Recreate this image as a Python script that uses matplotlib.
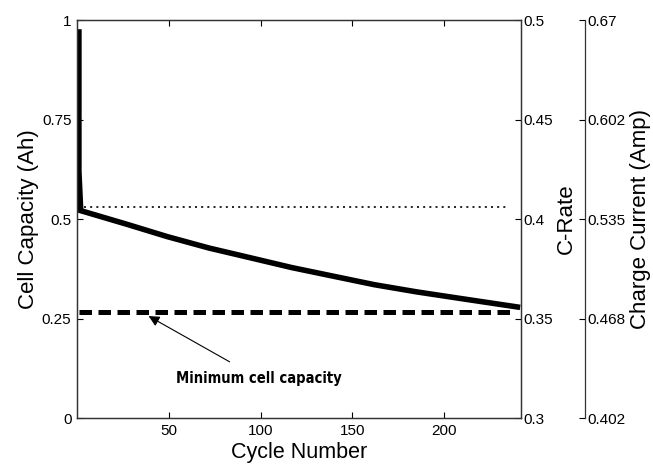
import matplotlib.pyplot as plt
import numpy as np

plt.rcParams["font.family"] = ["Liberation Sans", "DejaVu Sans"]

# capacity fade curve
cycles = [1, 1, 2, 27, 49, 72, 95, 117, 140, 162, 185, 208, 240]
capacity = [0.97, 0.62, 0.521, 0.487, 0.456, 0.427, 0.402, 0.378, 0.356, 0.335, 0.317, 0.301, 0.279]

min_capacity = 0.266
max_capacity = 0.530

x_ticks = [50, 100, 150, 200]
cap_ticks = [0, 0.25, 0.5, 0.75, 1]
cap_labels = ["0", "0.25", "0.5", "0.75", "1"]
crate_ticks = [0.3, 0.35, 0.4, 0.45, 0.5]
crate_labels = ["0.3", "0.35", "0.4", "0.45", "0.5"]
current_labels = ["0.402", "0.468", "0.535", "0.602", "0.67"]

fig = plt.figure(figsize=(6.53, 4.66), dpi=100)
ax = fig.add_axes([0.118, 0.103, 0.680, 0.854])

ax.plot(cycles, capacity, color="black", lw=4.0, solid_joinstyle="miter")
ax.plot([1, 238], [min_capacity, min_capacity], color="black", lw=3.6,
        linestyle=(0, (2.5, 1.3)))
ax.plot([4, 235], [max_capacity, max_capacity], color="black", lw=1.2,
        linestyle=(0, (1.2, 2.5)))

ax.set_xlim(0, 242)
ax.set_ylim(0, 1)
ax.set_xticks(x_ticks)
ax.set_yticks(cap_ticks)
ax.set_yticklabels(cap_labels)
ax.tick_params(direction="in", top=True, labelsize=11, length=4, width=0.8, pad=4)
ax.set_xlabel("Cycle Number", fontsize=15.5, labelpad=3)
ax.set_ylabel("Cell Capacity (Ah)", fontsize=16, labelpad=2)

ax.annotate("Minimum cell capacity", xy=(39, 0.256), xytext=(99, 0.10),
            ha="center", va="center", fontsize=10.5, fontweight="bold",
            fontstretch="condensed", family=["DejaVu Sans"],
            arrowprops=dict(arrowstyle="-|>", color="black", lw=0.8,
                            mutation_scale=16, shrinkA=9, shrinkB=0))

ax2 = ax.twinx()
ax2.set_ylim(0.3, 0.5)
ax2.set_yticks(crate_ticks)
ax2.set_yticklabels(crate_labels)
ax2.tick_params(direction="in", labelsize=11, length=4, width=0.8, pad=2)
ax2.set_ylabel("C-Rate", fontsize=16, labelpad=2)

ax3 = ax.twinx()
ax3.spines["right"].set_position(("axes", 1.144))
for s in ["left", "top", "bottom"]:
    ax3.spines[s].set_visible(False)
ax3.set_ylim(0.402, 0.67)
ax3.set_yticks(np.linspace(0.402, 0.67, 5))
ax3.set_yticklabels(current_labels)
ax3.tick_params(direction="in", labelsize=11, length=4, width=0.8, pad=2)
ax3.set_ylabel("Charge Current (Amp)", fontsize=16, labelpad=3)

for a in [ax, ax2, ax3]:
    for s in a.spines.values():
        s.set_color("#333333")
        s.set_linewidth(0.9)

fig.savefig("out.png", dpi=100)
